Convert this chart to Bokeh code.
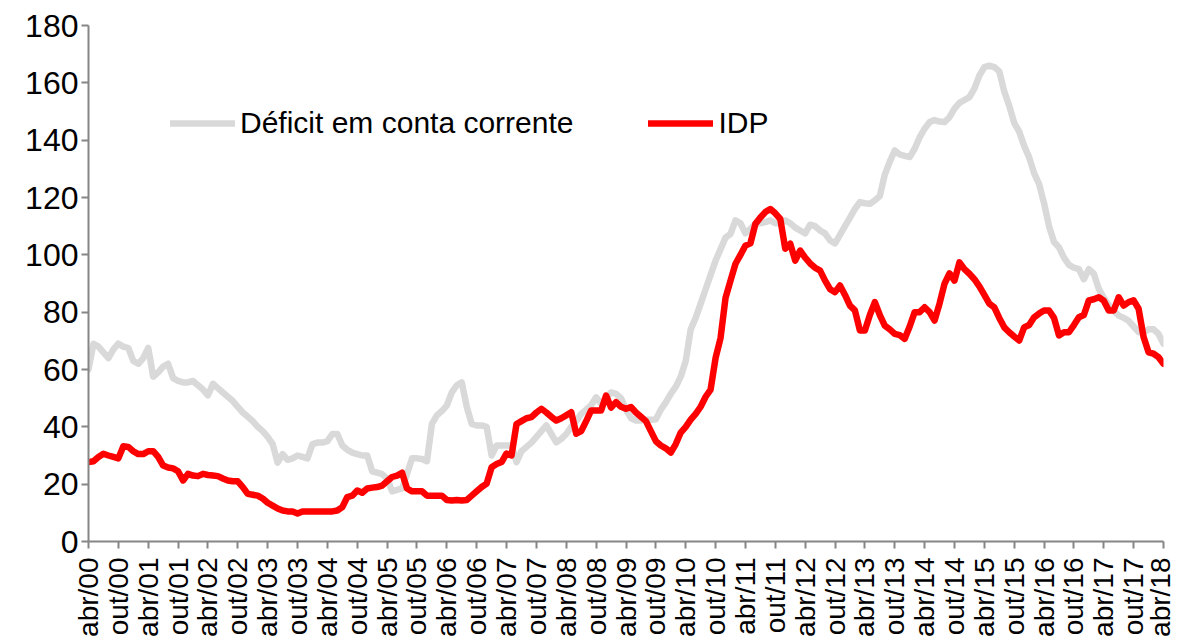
import math
from bokeh.plotting import figure
from bokeh.models import Range1d, FixedTicker, Legend, LegendItem
from bokeh.embed import file_html
from bokeh.resources import INLINE

# Monthly series, abr/2000 .. abr/2018 (US$ bi, 12-month sums)
deficit = [
    60, 69, 68, 66, 64, 67, 69, 68, 67.5, 63, 62, 64,
    67.5, 57.5, 59, 61, 62, 57, 56, 55.5, 55.5, 56, 54.5, 53,
    51, 55, 53.5, 52, 50.5, 49, 47, 45, 43.5, 42, 40, 38.5,
    36.5, 34, 27.5, 30.5, 28.5, 29, 30, 29.5, 29, 34, 34.5, 34.5,
    35, 37.5, 37.5, 33.5, 32, 31, 30.5, 30, 30, 24.5, 24, 23.5,
    22, 17.5, 18, 18.5, 23.5, 29, 29, 28.8, 28, 41, 44, 45.5,
    47.5, 52, 54.5, 55.5, 47, 41, 40.5, 40.5, 40, 30, 33.5, 33.5,
    33.5, 33.5, 27.7, 31.5, 33, 34.5, 36.5, 38.5, 40.5, 37.5, 34.6, 35.8,
    37.5, 40, 42, 44.5, 46, 47.5, 50.3, 48, 50, 52, 51.5, 50,
    46, 43, 42.2, 42.2, 42.5, 42.5, 42.6, 46, 48.5, 51.5, 54, 57.5,
    63, 74, 78, 83, 88, 93, 98, 102, 106, 107.3, 112, 111,
    107.5, 109, 110.8, 111, 111.4, 112, 111, 111, 112, 111, 109.5, 108.5,
    107.5, 110.5, 110, 108.5, 107.5, 105, 104, 107, 110, 113, 116, 118.4,
    118, 117.8, 119, 120.5, 128, 132.5, 136.4, 135, 134.5, 134.1, 137, 141,
    144, 146.3, 147, 146.5, 146.3, 148, 151, 153, 154, 155, 158, 162.5,
    165.5, 166, 165.5, 164, 157, 152, 146, 143, 138, 134, 128.5, 124.7,
    118, 110, 104.5, 102.6, 99, 96.5, 95.5, 95, 91.5, 95, 93.4, 88.1,
    85, 82.5, 80.5, 78.8, 78, 77, 75, 73, 73, 74, 74, 72.4,
    69,
]

idp = [
    27.7, 28, 29.5, 30.6, 30, 29.5, 29, 33.2, 33, 31.5, 30.5, 30.5,
    31.5, 31.5, 29.5, 26.5, 25.8, 25.5, 24.5, 21.3, 23.6, 23, 22.8, 23.6,
    23.2, 23, 22.8, 22, 21.3, 21, 21, 19, 16.6, 16.3, 16, 15,
    13.5, 12.5, 11.5, 10.8, 10.5, 10.5, 9.8, 10.5, 10.5, 10.5, 10.5, 10.5,
    10.5, 10.5, 10.8, 12, 15.5, 16, 17.8, 17, 18.5, 18.8, 19, 19.5,
    21, 22.5, 23, 24, 18.5, 17.5, 17.5, 17.5, 16, 16, 16, 16,
    14.5, 14.3, 14.5, 14.3, 14.5, 16, 17.5, 19, 20.2, 25.9, 27, 27.7,
    30.7, 30, 41, 42, 43, 43.4, 45, 46.3, 45, 43.5, 42.2, 43,
    44, 45.1, 37.6, 38.5, 42, 45.7, 45.7, 45.7, 50.9, 46.7, 48.6, 47,
    46.3, 46.9, 45, 43.5, 42, 38.5, 35, 33.5, 32.5, 31, 34, 38,
    40, 42.5, 44.5, 47, 50.5, 53, 64, 71, 85, 91, 96.9, 100,
    103.2, 104, 110.8, 113, 114.9, 116, 114.5, 112.5, 102.1, 103.9, 98, 101.5,
    99, 97, 95.5, 94.5, 91, 88, 87, 89.3, 86, 82.3, 80.6, 73.6,
    73.6, 79, 83.5, 79, 75.3, 74, 72.4, 72, 70.7, 75, 80, 80,
    81.7, 80, 77.1, 83, 89.9, 93.5, 91, 97.4, 95, 93.4, 91.5, 89,
    86, 83, 81.7, 78, 74.7, 73, 71.5, 70.1, 74.7, 75.5, 78.2, 79.5,
    80.6, 80.6, 78, 71.9, 73, 73, 75.5, 78.2, 79, 84.1, 84.5, 85.2,
    84, 80.6, 80.6, 85.2, 82.3, 83.5, 84.1, 81.2, 71.3, 66, 65.5, 64.3,
    62,
]

tick_labels = [
    "abr/00", "out/00", "abr/01", "out/01", "abr/02", "out/02", "abr/03", "out/03",
    "abr/04", "out/04", "abr/05", "out/05", "abr/06", "out/06", "abr/07", "out/07",
    "abr/08", "out/08", "abr/09", "out/09", "abr/10", "out/10", "abr/11", "out/11",
    "abr/12", "out/12", "abr/13", "out/13", "abr/14", "out/14", "abr/15", "out/15",
    "abr/16", "out/16", "abr/17", "out/17", "abr/18",
]

series_names = ["Déficit em conta corrente", "IDP"]

months = list(range(len(deficit)))
tick_pos = list(range(0, len(deficit), 6))

FONT = "Liberation Sans"
AXIS_COLOR = "#868686"

p = figure(width=1175, height=640, output_backend="svg", toolbar_location=None,
           x_range=Range1d(0, len(deficit) - 1), y_range=Range1d(0, 180),
           min_border_left=88, min_border_right=12, min_border_top=25,
           min_border_bottom=99)
p.outline_line_color = None
p.background_fill_color = "white"
p.border_fill_color = "white"
p.xgrid.visible = False
p.ygrid.visible = False

r1 = p.line(months, deficit, line_color="#D9D9D9", line_width=6.5,
            line_join="round", line_cap="round")
r2 = p.line(months, idp, line_color="#FF0000", line_width=6.5,
            line_join="round", line_cap="round")

p.xaxis.ticker = FixedTicker(ticks=tick_pos)
p.xaxis.major_label_overrides = {t: lab for t, lab in zip(tick_pos, tick_labels)}
p.xaxis.major_label_orientation = math.pi / 2
p.yaxis.ticker = FixedTicker(ticks=list(range(0, 181, 20)))

for ax in (p.xaxis, p.yaxis):
    ax.axis_line_color = AXIS_COLOR
    ax.axis_line_width = 2
    ax.major_tick_line_color = AXIS_COLOR
    ax.major_tick_line_width = 2
    ax.major_tick_out = 7
    ax.major_tick_in = 0
    ax.minor_tick_line_color = None
    ax.major_label_text_font = FONT
    ax.major_label_text_color = "black"

p.yaxis.major_label_standoff = 3
p.xaxis.major_label_standoff = 9
p.yaxis.major_label_text_font_size = "32px"
p.xaxis.major_label_text_font_size = "28px"

legend = Legend(
    items=[LegendItem(label=series_names[0], renderers=[r1]),
           LegendItem(label=series_names[1], renderers=[r2])],
    orientation="horizontal", location=(82, 401),
    glyph_width=65, glyph_height=30, label_height=30, label_standoff=5,
    spacing=75, padding=0, margin=0, border_line_color=None,
    background_fill_alpha=0, label_text_font=FONT, label_text_font_size="30px",
    label_text_color="black",
)
p.add_layout(legend)

open("out.html", "w").write(file_html(p, INLINE))
